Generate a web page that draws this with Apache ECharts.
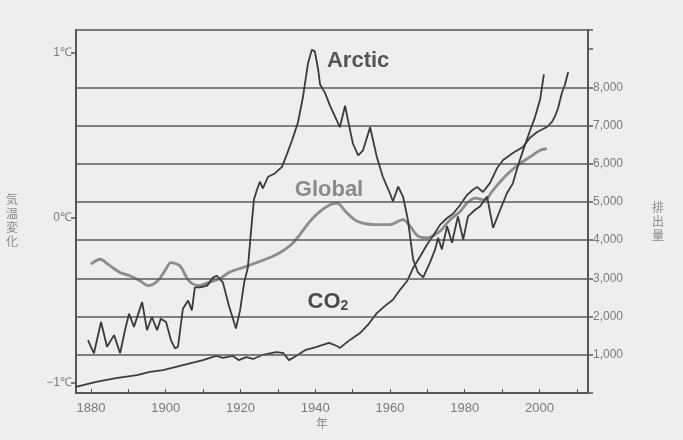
<!DOCTYPE html>
<html>
<head>
<meta charset="utf-8">
<script src="https://cdn.jsdelivr.net/npm/echarts@6/dist/echarts.min.js"></script>
<style>
  html, body { margin: 0; padding: 0; background: #eeeeee; }
  #chart { width: 683px; height: 440px; }
</style>
</head>
<body>
<div id="chart"></div>
<script>
// Arctic air temperature anomaly (℃)
const arcticYears = [1879.2,1880.8,1882.7,1884.3,1886.2,1887.8,1889.1,1890.2,1891.5,1893.7,1895.0,1896.3,1897.7,1898.7,1900.1,1901.4,1902.5,1903.3,1904.6,1906.0,1907.0,1907.8,1909.2,1911.1,1912.7,1913.7,1915.3,1916.9,1918.8,1919.9,1921.0,1922.0,1922.8,1923.6,1924.4,1925.2,1926.0,1927.4,1929.2,1931.1,1932.5,1933.8,1935.4,1936.7,1938.1,1939.1,1939.9,1940.8,1941.3,1942.6,1944.0,1945.8,1946.6,1948.0,1948.8,1950.1,1951.5,1952.8,1954.7,1956.5,1958.1,1960.0,1960.8,1962.2,1963.5,1964.8,1966.2,1967.5,1968.9,1970.7,1972.1,1972.9,1973.9,1975.3,1976.6,1978.2,1979.6,1980.9,1982.8,1984.1,1986.0,1987.6,1989.5,1991.3,1992.9,1994.3,1996.1,1997.5,1998.8,2000.2,2001.2];
const arcticTemp = [-0.74,-0.82,-0.63,-0.78,-0.71,-0.82,-0.68,-0.58,-0.66,-0.51,-0.68,-0.60,-0.68,-0.61,-0.63,-0.74,-0.79,-0.78,-0.55,-0.50,-0.56,-0.42,-0.42,-0.41,-0.36,-0.35,-0.39,-0.53,-0.67,-0.56,-0.39,-0.30,-0.09,0.11,0.17,0.22,0.18,0.25,0.27,0.31,0.39,0.47,0.58,0.73,0.94,1.02,1.01,0.90,0.81,0.76,0.68,0.59,0.55,0.68,0.59,0.45,0.38,0.41,0.55,0.37,0.25,0.15,0.10,0.19,0.13,-0.01,-0.25,-0.33,-0.36,-0.27,-0.19,-0.12,-0.19,-0.05,-0.15,0.01,-0.13,0.01,0.05,0.07,0.13,-0.06,0.05,0.15,0.21,0.32,0.44,0.53,0.61,0.72,0.87];

// Global mean temperature anomaly (℃)
const globalYears = [1880.0,1882.4,1885.1,1887.8,1890.4,1893.1,1895.3,1897.9,1899.8,1901.4,1903.8,1906.2,1908.9,1911.6,1914.3,1916.9,1920.7,1924.4,1929.8,1934.1,1938.6,1941.3,1944.0,1945.8,1948.5,1951.2,1955.5,1960.0,1963.5,1965.4,1967.5,1969.9,1973.4,1976.1,1978.8,1980.6,1982.8,1985.4,1987.3,1989.5,1992.1,1994.8,1997.5,2000.2,2002.0];
const globalTemp = [-0.28,-0.25,-0.29,-0.33,-0.35,-0.38,-0.41,-0.38,-0.32,-0.27,-0.29,-0.38,-0.41,-0.39,-0.37,-0.33,-0.30,-0.27,-0.22,-0.15,-0.02,0.04,0.08,0.09,0.03,-0.02,-0.04,-0.04,-0.01,-0.05,-0.11,-0.12,-0.08,-0.01,0.04,0.09,0.12,0.11,0.16,0.22,0.28,0.33,0.37,0.41,0.42];

// CO2 emissions
const co2Years = [1876.0,1881.4,1886.7,1892.3,1895.8,1899.3,1904.6,1910.0,1913.5,1915.3,1918.0,1919.6,1921.5,1923.4,1926.0,1929.5,1931.4,1933.0,1934.9,1937.5,1940.2,1943.7,1945.8,1946.6,1949.3,1952.0,1954.1,1956.5,1958.7,1960.8,1962.7,1964.6,1966.2,1968.0,1969.9,1971.5,1973.4,1975.3,1976.9,1978.8,1980.6,1982.2,1983.3,1984.9,1986.8,1988.7,1990.3,1992.9,1995.6,1997.5,1999.4,2002.0,2003.4,2004.2,2005.0,2006.0,2006.8,2007.7];
const co2Emission = [160,290,390,470,550,600,730,860,970,920,970,860,940,890,1000,1070,1050,860,970,1130,1200,1310,1230,1180,1390,1570,1780,2090,2280,2440,2700,2930,3270,3560,3880,4110,4400,4580,4690,4920,5180,5320,5390,5260,5500,5890,6100,6280,6440,6680,6830,6960,7100,7250,7460,7850,8060,8400];

// Axis ticks and labels
const yearTicks = [1880, 1900, 1920, 1940, 1960, 1980, 2000];
const yearMinorTicks = [1880,1890,1900,1910,1920,1930,1940,1950,1960,1970,1980,1990,2000,2010];
const tempTicks = [-1, 0, 1];
const emissionGrid = [1000, 2000, 3000, 4000, 5000, 6000, 7000, 8000];

const pairs = (xs, ys) => xs.map((x, i) => [x, ys[i]]);

const axisColor = '#555';
const labelColor = '#7a7a7a';
const baseFont = 'Liberation Sans, Arial, sans-serif';

const chart = echarts.init(document.getElementById('chart'), null, { renderer: 'canvas' });

chart.setOption({
  backgroundColor: '#eeeeee',
  animation: false,
  grid: {
    left: 76, right: 95, top: 30, bottom: 47,
    show: true, borderColor: axisColor, borderWidth: 1.5, backgroundColor: 'transparent'
  },
  xAxis: {
    type: 'value',
    min: 1876, max: 2013,
    axisLine: { show: true, onZero: false, lineStyle: { color: axisColor, width: 2 } },
    axisTick: { show: true, inside: true, length: 4, customValues: yearMinorTicks, lineStyle: { color: axisColor } },
    axisLabel: { customValues: yearTicks, color: labelColor, fontSize: 13, fontFamily: baseFont, margin: 9, formatter: v => String(v) },
    splitLine: { show: false }
  },
  yAxis: [
    {
      type: 'value',
      position: 'left',
      min: -1.0606, max: 1.1394,
      axisLine: { show: true, lineStyle: { color: axisColor, width: 2 } },
      axisTick: { show: true, length: 5, customValues: tempTicks, lineStyle: { color: axisColor, width: 1.5 } },
      axisLabel: {
        customValues: tempTicks, color: labelColor, fontSize: 12, fontFamily: baseFont, margin: 4,
        formatter: v => (v < 0 ? '\u2212' : '') + Math.abs(v) + '℃'
      },
      splitLine: { show: false }
    },
    {
      type: 'value',
      position: 'right',
      min: 0, max: 9500, interval: 1000,
      axisLine: { show: true, lineStyle: { color: axisColor, width: 2 } },
      axisTick: { show: true, length: 5, lineStyle: { color: axisColor, width: 1.5 } },
      axisLabel: {
        color: labelColor, fontSize: 12, fontFamily: baseFont, margin: 5,
        formatter: v => (v >= 1000 && v <= 8000) ? v.toLocaleString('en-US') : ''
      },
      splitLine: { show: false }
    }
  ],
  graphic: [
    {
      type: 'text', left: 6, top: 192,
      style: { text: '気\n温\n変\n化', fill: '#8a8a8a', font: '12px "Noto Sans CJK JP"', lineHeight: 14 }
    },
    {
      type: 'text', left: 652, top: 200,
      style: { text: '排\n出\n量', fill: '#8a8a8a', font: '12px "Noto Sans CJK JP"', lineHeight: 14 }
    },
    {
      type: 'text', left: 316, top: 417,
      style: { text: '年', fill: '#8a8a8a', font: '12px "Noto Sans CJK JP"' }
    }
  ],
  series: [
    {
      // horizontal reference lines on the emission scale
      type: 'line', yAxisIndex: 1, data: [], z: 1, silent: true,
      markLine: {
        silent: true, symbol: 'none', label: { show: false },
        lineStyle: { color: '#5a5a5a', width: 1.6, type: 'solid' },
        data: emissionGrid.map(v => ({ yAxis: v }))
      }
    },
    {
      name: 'Global', type: 'line', yAxisIndex: 0, z: 3,
      data: pairs(globalYears, globalTemp),
      showSymbol: false, smooth: 0.3,
      lineStyle: { color: '#8c8c8c', width: 2.8 },
      markPoint: {
        symbol: 'circle', symbolSize: 1, itemStyle: { color: 'transparent' },
        label: { show: true, position: 'inside', color: '#8a8a8a', fontSize: 22, fontWeight: 'bold', fontFamily: baseFont, formatter: 'Global' },
        data: [{ coord: [1943.7, 0.17] }]
      }
    },
    {
      name: 'CO2', type: 'line', yAxisIndex: 1, z: 4,
      data: pairs(co2Years, co2Emission),
      showSymbol: false,
      lineStyle: { color: '#3c3c3c', width: 1.8 },
      markPoint: {
        symbol: 'circle', symbolSize: 1, itemStyle: { color: 'transparent' },
        label: {
          show: true, position: 'inside', formatter: '{a|CO}{b|2}',
          rich: {
            a: { color: '#4a4a4a', fontSize: 22, fontWeight: 'bold', fontFamily: baseFont },
            b: { color: '#4a4a4a', fontSize: 14, fontWeight: 'bold', fontFamily: baseFont, verticalAlign: 'bottom', padding: [9, 0, 0, 0] }
          }
        },
        data: [{ coord: [1943.4, 2380] }]
      }
    },
    {
      name: 'Arctic', type: 'line', yAxisIndex: 0, z: 5,
      data: pairs(arcticYears, arcticTemp),
      showSymbol: false,
      lineStyle: { color: '#3a3a3a', width: 1.8 },
      markPoint: {
        symbol: 'circle', symbolSize: 1, itemStyle: { color: 'transparent' },
        label: { show: true, position: 'inside', color: '#555', fontSize: 22, fontWeight: 'bold', fontFamily: baseFont, formatter: 'Arctic' },
        data: [{ coord: [1951.5, 0.95] }]
      }
    }
  ]
});
</script>
</body>
</html>
